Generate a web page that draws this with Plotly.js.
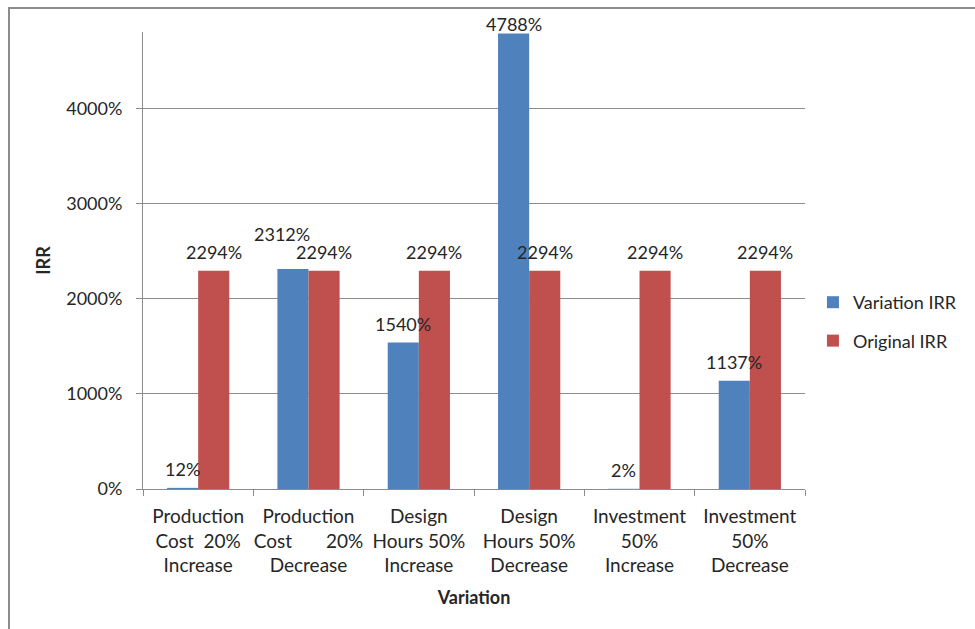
<!DOCTYPE html>
<html>
<head>
<meta charset="utf-8">
<script src="https://cdn.plot.ly/plotly-3.0.1.min.js"></script>
<style>html,body{margin:0;padding:0;background:#fff;}#chart{width:975px;height:629px;}</style>
</head>
<body>
<div id="chart"></div>
<script>
var categories = [
  "Production<br>Cost\u00a0\u00a020%<br>Increase",
  "Production<br>Cost\u00a0\u00a0\u00a0\u00a0\u00a0\u00a0\u00a020%<br>Decrease",
  "Design<br>Hours 50%<br>Increase",
  "Design<br>Hours 50%<br>Decrease",
  "Investment<br>50%<br>Increase",
  "Investment<br>50%<br>Decrease"
];
var seriesNames = ["Variation IRR", "Original IRR"];
var variationIRR = [12, 2312, 1540, 4788, 2, 1137];
var originalIRR = [2294, 2294, 2294, 2294, 2294, 2294];
var yTickValues = [0, 1000, 2000, 3000, 4000];

var FONT = "Lato, 'Open Sans', sans-serif";
var TXT = "#262626";
var W = 975, H = 629;
var M = {l: 143, r: 170, t: 32, b: 140};
var YMAX = 4805;
var plotH = H - M.t - M.b;
var plotW = W - M.l - M.r;
var BARGAP = 0.436;

function labels(arr) { return arr.map(function (v) { return v + "%"; }); }

var traces = [
  {
    type: "bar", name: seriesNames[0], x: categories, y: variationIRR,
    marker: {color: "#4F81BD"}, legendgroup: "a", hoverinfo: "none"
  },
  {
    type: "bar", name: seriesNames[1], x: categories, y: originalIRR,
    marker: {color: "#C0504D"}, legendgroup: "b", hoverinfo: "none"
  }
];

// data labels (outside end), drawn on top of all bars
var barW = plotW / categories.length * (1 - BARGAP) / 2;
var annotations = [];
function addLabels(vals, side, other) {
  vals.forEach(function (v, i) {
    var topPx = M.t + plotH * (1 - v / YMAX);
    var shift = 19;
    var xs = side * barW / 2;
    // Excel nudges a label up/left when it collides with the neighbour's label
    if (other && Math.abs(v - other[i]) < 200 && v > other[i]) { shift += 16; xs -= 11; }
    if (topPx - shift < M.t - 8) shift = topPx - (M.t - 8);
    annotations.push({
      x: categories[i], y: v, xref: "x", yref: "y",
      text: v + "%", showarrow: false,
      xshift: xs, yshift: shift, yanchor: "middle",
      font: {family: FONT, size: 18, color: TXT}
    });
  });
}
addLabels(originalIRR, 1, null);
addLabels(variationIRR, -1, originalIRR);

var layout = {
  width: W, height: H,
  margin: {l: M.l, r: M.r, t: M.t, b: M.b, pad: 0},
  paper_bgcolor: "#fff", plot_bgcolor: "#fff",
  font: {family: FONT, size: 18, color: TXT},
  barmode: "group", bargap: BARGAP, bargroupgap: 0,
  showlegend: true,
  legend: {
    x: 1.012, xanchor: "left", y: 0.3665, yanchor: "middle",
    traceorder: "grouped", tracegroupgap: 12,
    font: {family: FONT, size: 18, color: TXT}, bgcolor: "rgba(0,0,0,0)"
  },
  xaxis: {
    type: "category",
    showline: true, linecolor: "#8c8c8c", linewidth: 1,
    ticks: "outside", tickson: "boundaries", ticklen: 6, tickcolor: "#8c8c8c",
    showgrid: false, zeroline: false, tickangle: 0,
    tickfont: {family: FONT, size: 19, color: TXT},
    ticklabelstandoff: 10,
    automargin: false,
    title: {text: "<b>Variation</b>", font: {family: FONT, size: 18, color: TXT}, standoff: 16}
  },
  yaxis: {
    range: [0, YMAX], tickvals: yTickValues, ticktext: labels(yTickValues),
    showline: true, linecolor: "#8c8c8c", linewidth: 1,
    ticks: "outside", ticklen: 6, tickcolor: "#8c8c8c",
    showgrid: true, gridcolor: "#8c8c8c", gridwidth: 1, zeroline: false,
    tickfont: {family: FONT, size: 18, color: TXT},
    ticklabelstandoff: 10,
    automargin: false,
    title: {text: "<b>IRR</b>", font: {family: FONT, size: 18, color: TXT}, standoff: 10}
  },
  annotations: annotations,
  shapes: [{
    type: "rect", xref: "paper", yref: "paper",
    x0: (9 - M.l) / plotW, x1: (990 - M.l) / plotW,
    y0: (H - M.b - 650) / plotH, y1: (H - M.b - 8) / plotH,
    line: {color: "#8c8c8c", width: 2}, fillcolor: "rgba(0,0,0,0)", layer: "below"
  }]
};

Plotly.newPlot("chart", traces, layout, {staticPlot: true, displayModeBar: false});
</script>
</body>
</html>
